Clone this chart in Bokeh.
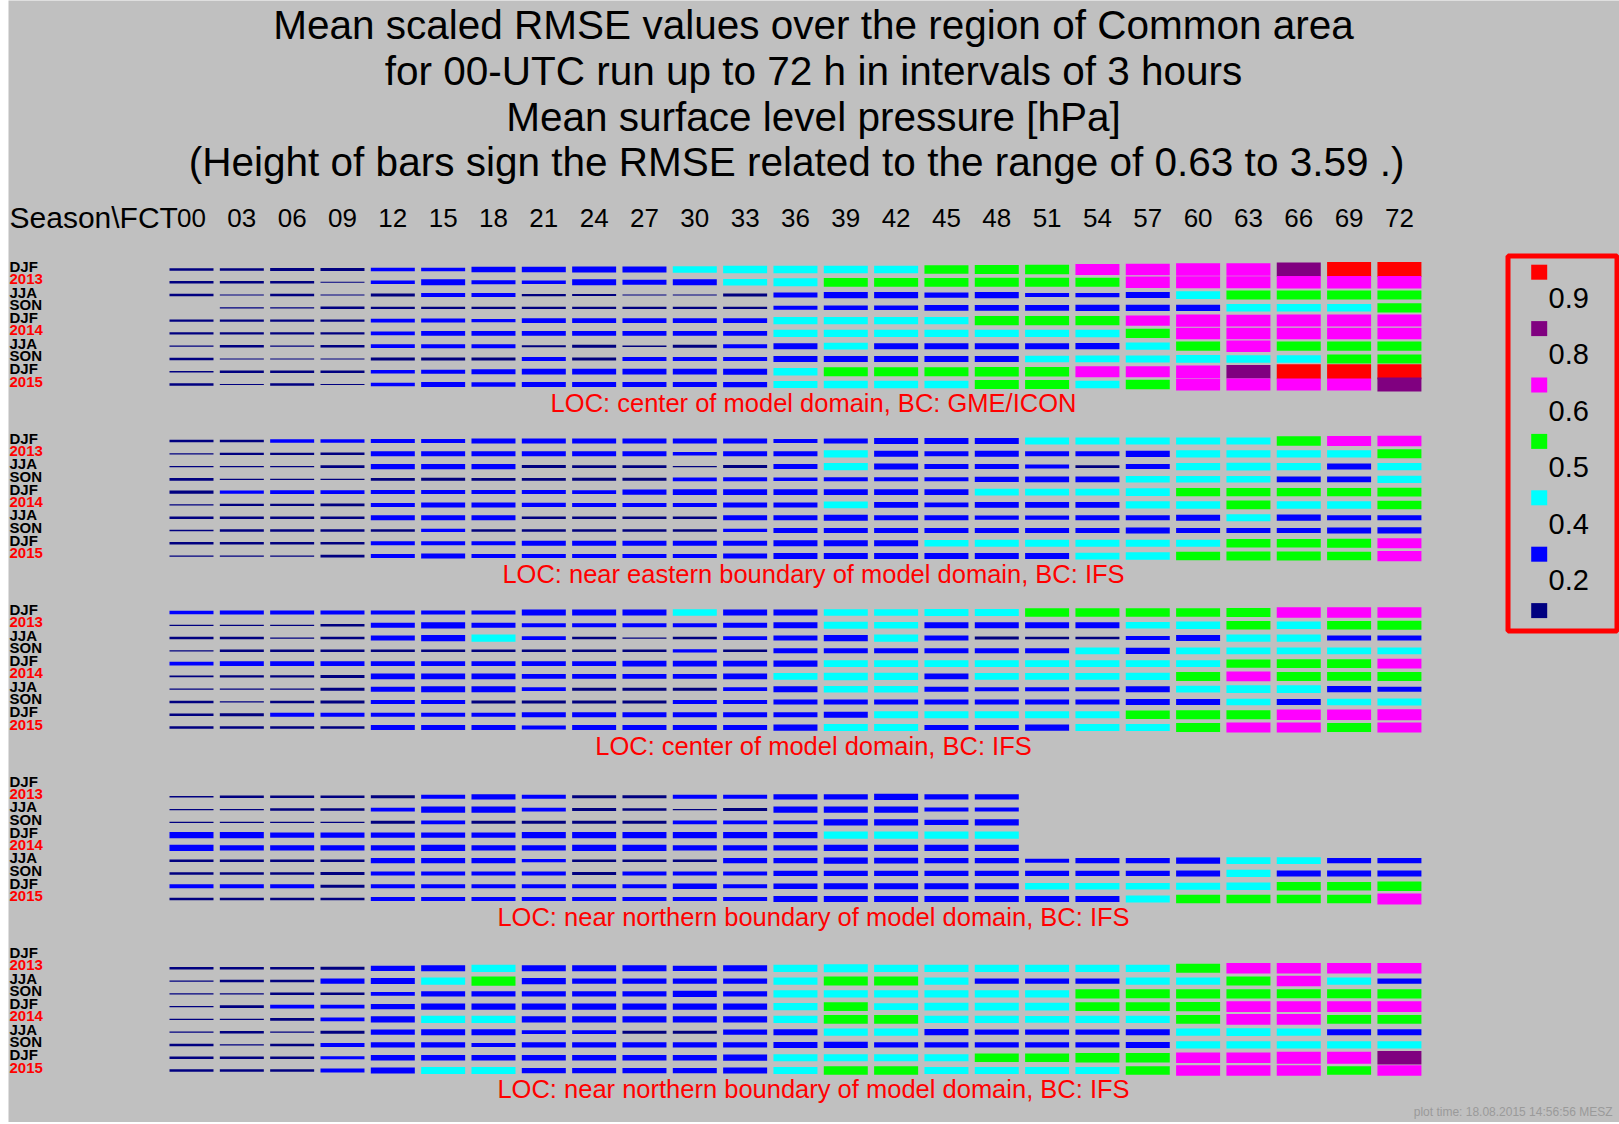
from bokeh.plotting import figure
from bokeh.models import Range1d, ColumnDataSource
from bokeh.embed import file_html
from bokeh.resources import INLINE
from bokeh.core.properties import value

# ---------------------------------------------------------------- data
hours = list(range(0, 73, 3))
tick_labels = ["%02d" % h for h in hours]
row_labels = ["DJF", "2013", "JJA", "SON", "DJF", "2014", "JJA", "SON", "DJF", "2015"]
row_label_colors = ["black", "red", "black", "black", "black",
                    "red", "black", "black", "black", "red"]

title_lines = [
    "Mean scaled RMSE values over the region of Common area",
    "for 00-UTC run up to 72 h in intervals of 3 hours",
    "Mean surface level pressure [hPa]",
    "(Height of bars sign the RMSE related to the range  of  0.63 to  3.59 .)",
]
captions = [
    "LOC: center of model domain, BC: GME/ICON",
    "LOC: near eastern boundary of model domain, BC: IFS",
    "LOC: center of model domain, BC: IFS",
    "LOC: near northern boundary of model domain, BC: IFS",
    "LOC: near northern boundary of model domain, BC: IFS",
]

legend_colors = ["#ff0000", "#800080", "#ff00ff", "#00ff00", "#00ffff", "#0000ff", "#000080"]
legend_labels = ["0.9", "0.8", "0.6", "0.5", "0.4", "0.2"]
class_edges = [0.9, 0.8, 0.6, 0.5, 0.4, 0.2]

N = None
# scaled RMSE, one row per season, one column per forecast hour 00..72
center_gme = [
    [0.17, 0.15, 0.19, 0.19, 0.22, 0.22, 0.33, 0.33, 0.38, 0.38, 0.41, 0.46, 0.46, 0.47, 0.47, 0.53, 0.55, 0.59, 0.70, 0.72, 0.78, 0.78, 0.88, 0.93, 0.94],
    [0.15, 0.15, 0.15, 0.07, 0.23, 0.37, 0.25, 0.22, 0.37, 0.32, 0.37, 0.41, 0.49, 0.55, 0.55, 0.55, 0.56, 0.56, 0.57, 0.73, 0.75, 0.76, 0.77, 0.77, 0.77],
    [0.15, 0.07, 0.15, 0.07, 0.19, 0.25, 0.25, 0.14, 0.13, 0.07, 0.07, 0.19, 0.32, 0.39, 0.39, 0.33, 0.39, 0.25, 0.27, 0.38, 0.48, 0.56, 0.57, 0.57, 0.57],
    [N,    0.07, 0.07, 0.16, 0.15, 0.13, 0.13, 0.13, 0.13, 0.13, 0.13, 0.13, 0.25, 0.28, 0.28, 0.35, 0.35, 0.35, 0.39, 0.38, 0.38, 0.47, 0.47, 0.47, 0.58],
    [0.15, 0.15, 0.15, 0.15, 0.22, 0.25, 0.21, 0.30, 0.30, 0.30, 0.30, 0.30, 0.45, 0.45, 0.45, 0.45, 0.58, 0.58, 0.58, 0.65, 0.78, 0.72, 0.75, 0.75, 0.75],
    [0.15, 0.15, 0.15, 0.15, 0.23, 0.30, 0.30, 0.30, 0.30, 0.30, 0.30, 0.30, 0.45, 0.45, 0.45, 0.46, 0.46, 0.46, 0.47, 0.59, 0.72, 0.72, 0.72, 0.72, 0.72],
    [0.08, 0.15, 0.07, 0.15, 0.23, 0.25, 0.25, 0.12, 0.19, 0.10, 0.19, 0.25, 0.38, 0.42, 0.38, 0.38, 0.38, 0.38, 0.39, 0.45, 0.58, 0.72, 0.58, 0.58, 0.58],
    [0.15, 0.07, 0.07, 0.07, 0.19, 0.19, 0.19, 0.25, 0.18, 0.25, 0.25, 0.25, 0.37, 0.38, 0.38, 0.38, 0.38, 0.41, 0.42, 0.44, 0.48, 0.46, 0.47, 0.57, 0.57],
    [0.08, 0.16, 0.16, 0.16, 0.23, 0.25, 0.30, 0.36, 0.36, 0.36, 0.36, 0.37, 0.48, 0.57, 0.57, 0.57, 0.58, 0.58, 0.70, 0.70, 0.78, 0.85, 0.93, 0.94, 0.94],
    [0.16, 0.07, 0.16, 0.07, 0.23, 0.30, 0.27, 0.30, 0.30, 0.30, 0.30, 0.33, 0.45, 0.46, 0.46, 0.46, 0.57, 0.57, 0.46, 0.59, 0.75, 0.75, 0.75, 0.76, 0.88],
]
east_ifs = [
    [0.17, 0.16, 0.22, 0.22, 0.25, 0.25, 0.31, 0.31, 0.31, 0.31, 0.31, 0.31, 0.26, 0.31, 0.37, 0.37, 0.39, 0.45, 0.45, 0.45, 0.45, 0.45, 0.58, 0.62, 0.65],
    [0.08, 0.14, 0.14, 0.15, 0.31, 0.31, 0.31, 0.31, 0.31, 0.31, 0.21, 0.31, 0.31, 0.45, 0.37, 0.32, 0.37, 0.31, 0.31, 0.39, 0.45, 0.45, 0.45, 0.45, 0.56],
    [0.08, 0.08, 0.08, 0.17, 0.33, 0.33, 0.33, 0.19, 0.17, 0.17, 0.08, 0.19, 0.31, 0.45, 0.37, 0.32, 0.32, 0.25, 0.17, 0.32, 0.45, 0.48, 0.45, 0.37, 0.45],
    [0.17, 0.08, 0.08, 0.08, 0.17, 0.19, 0.17, 0.17, 0.19, 0.19, 0.24, 0.25, 0.22, 0.25, 0.25, 0.25, 0.32, 0.37, 0.37, 0.41, 0.41, 0.41, 0.37, 0.37, 0.45],
    [0.19, 0.21, 0.22, 0.22, 0.25, 0.25, 0.25, 0.25, 0.24, 0.34, 0.37, 0.37, 0.37, 0.37, 0.37, 0.37, 0.41, 0.41, 0.42, 0.47, 0.52, 0.52, 0.52, 0.52, 0.56],
    [0.08, 0.14, 0.15, 0.16, 0.25, 0.31, 0.31, 0.26, 0.25, 0.25, 0.25, 0.31, 0.31, 0.41, 0.37, 0.29, 0.37, 0.37, 0.37, 0.45, 0.47, 0.54, 0.47, 0.47, 0.53],
    [0.16, 0.15, 0.16, 0.16, 0.31, 0.31, 0.31, 0.16, 0.16, 0.16, 0.16, 0.31, 0.31, 0.37, 0.31, 0.31, 0.26, 0.26, 0.31, 0.31, 0.37, 0.44, 0.39, 0.31, 0.31],
    [0.10, 0.15, 0.15, 0.15, 0.15, 0.20, 0.16, 0.16, 0.16, 0.16, 0.16, 0.20, 0.31, 0.31, 0.31, 0.31, 0.31, 0.31, 0.31, 0.37, 0.32, 0.32, 0.31, 0.37, 0.39],
    [0.17, 0.16, 0.16, 0.16, 0.25, 0.25, 0.25, 0.31, 0.31, 0.31, 0.31, 0.31, 0.37, 0.37, 0.37, 0.42, 0.43, 0.43, 0.45, 0.45, 0.45, 0.52, 0.54, 0.56, 0.62],
    [0.08, 0.08, 0.08, 0.17, 0.25, 0.31, 0.25, 0.25, 0.25, 0.25, 0.25, 0.32, 0.37, 0.37, 0.37, 0.37, 0.37, 0.37, 0.42, 0.47, 0.52, 0.55, 0.56, 0.53, 0.64],
]
center_ifs = [
    [0.22, 0.24, 0.24, 0.24, 0.24, 0.24, 0.24, 0.37, 0.37, 0.37, 0.41, 0.37, 0.37, 0.41, 0.41, 0.45, 0.45, 0.52, 0.52, 0.52, 0.52, 0.56, 0.65, 0.65, 0.65],
    [0.08, 0.08, 0.08, 0.16, 0.31, 0.39, 0.31, 0.24, 0.24, 0.24, 0.24, 0.31, 0.37, 0.43, 0.41, 0.37, 0.37, 0.37, 0.37, 0.41, 0.47, 0.53, 0.47, 0.54, 0.56],
    [0.15, 0.16, 0.08, 0.16, 0.31, 0.39, 0.45, 0.24, 0.16, 0.08, 0.16, 0.24, 0.31, 0.39, 0.45, 0.31, 0.18, 0.15, 0.15, 0.25, 0.37, 0.45, 0.45, 0.31, 0.31],
    [0.08, 0.16, 0.16, 0.16, 0.16, 0.16, 0.16, 0.16, 0.16, 0.16, 0.20, 0.16, 0.31, 0.31, 0.31, 0.31, 0.31, 0.31, 0.43, 0.39, 0.43, 0.43, 0.43, 0.43, 0.43],
    [0.22, 0.30, 0.30, 0.30, 0.30, 0.30, 0.30, 0.30, 0.30, 0.37, 0.37, 0.37, 0.39, 0.43, 0.43, 0.43, 0.43, 0.43, 0.43, 0.43, 0.43, 0.52, 0.56, 0.56, 0.62],
    [0.10, 0.15, 0.15, 0.19, 0.37, 0.37, 0.37, 0.30, 0.30, 0.30, 0.30, 0.37, 0.42, 0.47, 0.45, 0.37, 0.41, 0.41, 0.41, 0.45, 0.56, 0.62, 0.56, 0.54, 0.56],
    [0.08, 0.08, 0.08, 0.19, 0.31, 0.37, 0.37, 0.24, 0.19, 0.19, 0.19, 0.24, 0.37, 0.41, 0.41, 0.31, 0.25, 0.25, 0.25, 0.37, 0.43, 0.49, 0.49, 0.39, 0.31],
    [0.15, 0.08, 0.15, 0.19, 0.24, 0.24, 0.19, 0.19, 0.19, 0.19, 0.24, 0.24, 0.31, 0.31, 0.31, 0.31, 0.31, 0.31, 0.31, 0.37, 0.37, 0.41, 0.37, 0.41, 0.43],
    [0.16, 0.19, 0.24, 0.24, 0.24, 0.24, 0.24, 0.31, 0.31, 0.31, 0.31, 0.31, 0.31, 0.37, 0.43, 0.43, 0.43, 0.45, 0.45, 0.53, 0.56, 0.56, 0.65, 0.65, 0.70],
    [0.16, 0.16, 0.16, 0.16, 0.30, 0.30, 0.30, 0.24, 0.30, 0.30, 0.30, 0.30, 0.39, 0.43, 0.43, 0.31, 0.31, 0.39, 0.43, 0.45, 0.56, 0.62, 0.62, 0.56, 0.62],
]
north_ifs_a = [
    [N] * 25,
    [0.10, 0.16, 0.16, 0.16, 0.19, 0.24, 0.33, 0.24, 0.19, 0.19, 0.24, 0.24, 0.33, 0.33, 0.39, 0.33, 0.33] + [N] * 8,
    [0.08, 0.08, 0.16, 0.16, 0.24, 0.39, 0.39, 0.24, 0.19, 0.16, 0.08, 0.19, 0.39, 0.39, 0.39, 0.25, 0.25] + [N] * 8,
    [0.08, 0.08, 0.08, 0.08, 0.19, 0.24, 0.19, 0.19, 0.19, 0.19, 0.24, 0.24, 0.24, 0.39, 0.39, 0.33, 0.39] + [N] * 8,
    [0.38, 0.38, 0.33, 0.33, 0.33, 0.33, 0.33, 0.38, 0.38, 0.38, 0.38, 0.38, 0.38, 0.45, 0.45, 0.45, 0.45] + [N] * 8,
    [0.38, 0.33, 0.33, 0.33, 0.33, 0.38, 0.33, 0.33, 0.38, 0.39, 0.33, 0.33, 0.33, 0.38, 0.38, 0.38, 0.39] + [N] * 8,
    [0.16, 0.16, 0.16, 0.16, 0.33, 0.33, 0.33, 0.20, 0.16, 0.16, 0.16, 0.33, 0.33, 0.39, 0.36, 0.33, 0.33, 0.25, 0.33, 0.33, 0.39, 0.43, 0.43, 0.33, 0.33],
    [0.16, 0.16, 0.16, 0.19, 0.24, 0.24, 0.24, 0.24, 0.19, 0.24, 0.24, 0.24, 0.33, 0.33, 0.33, 0.33, 0.33, 0.33, 0.33, 0.33, 0.38, 0.45, 0.38, 0.38, 0.38],
    [0.24, 0.24, 0.24, 0.19, 0.24, 0.24, 0.24, 0.24, 0.24, 0.24, 0.33, 0.24, 0.33, 0.38, 0.38, 0.38, 0.38, 0.42, 0.42, 0.42, 0.45, 0.47, 0.53, 0.53, 0.58],
    [0.16, 0.16, 0.16, 0.16, 0.24, 0.24, 0.24, 0.24, 0.24, 0.24, 0.24, 0.24, 0.38, 0.38, 0.38, 0.38, 0.38, 0.38, 0.38, 0.45, 0.53, 0.53, 0.53, 0.53, 0.68],
]
north_ifs_b = [
    [N] * 25,
    [0.16, 0.16, 0.16, 0.19, 0.33, 0.38, 0.45, 0.38, 0.38, 0.38, 0.33, 0.38, 0.45, 0.49, 0.45, 0.45, 0.45, 0.45, 0.45, 0.45, 0.56, 0.65, 0.65, 0.65, 0.65],
    [0.08, 0.16, 0.16, 0.33, 0.38, 0.45, 0.58, 0.39, 0.33, 0.33, 0.33, 0.33, 0.45, 0.56, 0.56, 0.45, 0.33, 0.33, 0.33, 0.45, 0.45, 0.56, 0.65, 0.45, 0.33],
    [0.08, 0.08, 0.16, 0.16, 0.24, 0.33, 0.33, 0.33, 0.33, 0.33, 0.38, 0.33, 0.45, 0.45, 0.45, 0.45, 0.45, 0.45, 0.58, 0.56, 0.58, 0.58, 0.56, 0.56, 0.58],
    [0.08, 0.16, 0.24, 0.24, 0.33, 0.38, 0.38, 0.38, 0.38, 0.38, 0.38, 0.38, 0.45, 0.54, 0.42, 0.49, 0.49, 0.49, 0.54, 0.54, 0.58, 0.68, 0.68, 0.68, 0.68],
    [0.08, 0.08, 0.16, 0.24, 0.38, 0.45, 0.45, 0.38, 0.38, 0.38, 0.38, 0.38, 0.45, 0.54, 0.54, 0.45, 0.45, 0.41, 0.45, 0.45, 0.54, 0.68, 0.68, 0.54, 0.54],
    [0.08, 0.16, 0.08, 0.19, 0.33, 0.38, 0.38, 0.24, 0.24, 0.19, 0.19, 0.33, 0.38, 0.45, 0.45, 0.39, 0.33, 0.33, 0.33, 0.38, 0.45, 0.49, 0.45, 0.38, 0.38],
    [0.16, 0.08, 0.16, 0.24, 0.33, 0.33, 0.24, 0.33, 0.33, 0.33, 0.33, 0.33, 0.38, 0.39, 0.33, 0.33, 0.33, 0.33, 0.33, 0.38, 0.45, 0.45, 0.45, 0.45, 0.45],
    [0.16, 0.16, 0.16, 0.20, 0.33, 0.33, 0.33, 0.33, 0.33, 0.33, 0.33, 0.39, 0.45, 0.45, 0.45, 0.45, 0.52, 0.52, 0.58, 0.58, 0.65, 0.65, 0.75, 0.75, 0.83],
    [0.16, 0.16, 0.16, 0.24, 0.38, 0.45, 0.45, 0.33, 0.33, 0.33, 0.33, 0.38, 0.45, 0.54, 0.54, 0.45, 0.45, 0.45, 0.45, 0.54, 0.65, 0.65, 0.65, 0.54, 0.65],
]
panels = [center_gme, east_ifs, center_ifs, north_ifs_a, north_ifs_b]

# ---------------------------------------------------------------- layout
BG = "#c0c0c0"
FONT = "Liberation Sans"
FIG_W, FIG_H, LEFT_GAP = 1611, 1122, 8

X0_PX, PX_PER_HOUR = 191.0, 50.33 / 3.0      # window px of hour 0, px per hour
Y0_PX, PX_PER_ROW = 269.0, 12.78             # window px of first row, px per row
PANEL_STEP = 171.5 / PX_PER_ROW              # rows between panel starts
BAR_W = 44.0 / PX_PER_HOUR                   # bar width in hours
BAR_SCALE = 16.0 / PX_PER_ROW                # bar height (rows) for a value of 1


def hx(px):
    return (px - X0_PX) / PX_PER_HOUR


def ry(px):
    return (px - Y0_PX) / PX_PER_ROW


def colour(v):
    for edge, c in zip(class_edges, legend_colors):
        if v >= edge:
            return c
    return legend_colors[-1]


p = figure(width=FIG_W, height=FIG_H,
           x_range=Range1d(hx(LEFT_GAP), hx(LEFT_GAP + FIG_W)),
           y_range=Range1d(ry(FIG_H), ry(0)),
           output_backend="svg", toolbar_location=None, min_border=0,
           background_fill_color=BG, border_fill_color=BG, outline_line_color=None)
p.margin = (0, 0, 0, LEFT_GAP)
p.axis.visible = False
p.grid.visible = False

# ---------------------------------------------------------------- bars
bars = dict(left=[], right=[], top=[], bottom=[], color=[])
for k, panel in enumerate(panels):
    for r, row in enumerate(panel):
        yc = k * PANEL_STEP + r
        for h, v in zip(hours, row):
            if v is None:
                continue
            half = v * BAR_SCALE / 2.0
            bars["left"].append(h - BAR_W / 2.0)
            bars["right"].append(h + BAR_W / 2.0)
            bars["top"].append(yc - half)
            bars["bottom"].append(yc + half)
            bars["color"].append(colour(v))
p.quad(left="left", right="right", top="top", bottom="bottom", fill_color="color",
       line_color=None, source=ColumnDataSource(bars))

# ---------------------------------------------------------------- texts
title_y = [ry(24), ry(70), ry(116), ry(161)]
p.text(x=[hx(813)] * 4, y=title_y, text=title_lines, text_font=value(FONT),
       text_font_size="40.5px", text_align="center", text_baseline="middle",
       text_color="black")

header_y = ry(217)
p.text(x=[hx(9)], y=[header_y], text=["Season\\FCT"], text_font=value(FONT),
       text_font_size="30px", text_align="left", text_baseline="middle", text_color="black")
p.text(x=hours, y=[header_y] * len(hours), text=tick_labels, text_font=value(FONT),
       text_font_size="26px", text_align="center", text_baseline="middle", text_color="black")

lab_x, lab_y, lab_t, lab_c = [], [], [], []
for k in range(len(panels)):
    for r, (t, c) in enumerate(zip(row_labels, row_label_colors)):
        lab_x.append(hx(9))
        lab_y.append(k * PANEL_STEP + r - 3.0 / PX_PER_ROW)
        lab_t.append(t)
        lab_c.append(c)
p.text(x=lab_x, y=lab_y, text=lab_t, text_color=lab_c, text_font=value(FONT),
       text_font_size="15px", text_font_style="bold", text_align="left",
       text_baseline="middle")

cap_y = [k * PANEL_STEP + 133.0 / PX_PER_ROW for k in range(len(panels))]
p.text(x=[hx(813)] * len(captions), y=cap_y, text=captions, text_font=value(FONT),
       text_font_size="25.5px", text_align="center", text_baseline="middle",
       text_color="#ff0000")

# ---------------------------------------------------------------- legend
sw_y = [ry(271.7 + 56.4 * i) for i in range(len(legend_colors))]
p.rect(x=[hx(1538.7)] * len(legend_colors), y=sw_y, width=16.0 / PX_PER_HOUR,
       height=15.0 / PX_PER_ROW, fill_color=legend_colors, line_color=None)
p.text(x=[hx(1548)] * len(legend_labels),
       y=[ry(297.5 + 56.4 * i) for i in range(len(legend_labels))],
       text=legend_labels, text_font=value(FONT), text_font_size="29px",
       text_align="left", text_baseline="middle", text_color="black")
p.quad(left=[hx(1507.5)], right=[hx(1616.5)], top=[ry(255.5)], bottom=[ry(630.5)],
       fill_color=None, line_color="#ff0000", line_width=5)

p.text(x=[hx(1612)], y=[ry(1111)], text=["plot time: 18.08.2015 14:56:56 MESZ"],
       text_font=value(FONT), text_font_size="12px", text_align="right",
       text_baseline="middle", text_color="#9a9a9a")

open("out.html", "w").write(file_html(p, INLINE))
